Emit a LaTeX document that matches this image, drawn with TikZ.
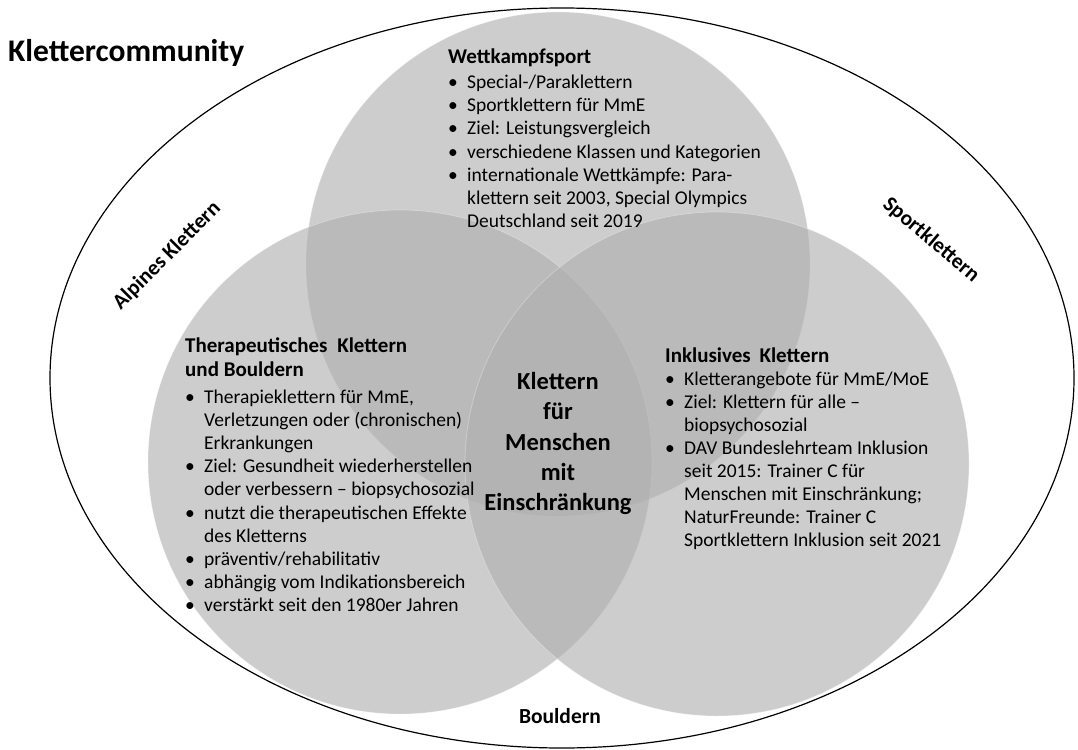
\documentclass[tikz,border=0pt]{standalone}
\usepackage{fontspec}
\setmainfont{Carlito}
\usetikzlibrary{positioning}

\definecolor{kreisgrau}{gray}{0.686}
\newcommand{\pkt}{\makebox[19pt][l]{\textbullet}}
\newcommand{\weiter}{\hspace*{19pt}}

\begin{document}
\begin{tikzpicture}[%
x=1pt, y=-1pt,
kreis/.style={circle, minimum size=504pt, inner sep=0pt, fill=kreisgrau,
  fill opacity=0.625, draw=white, draw opacity=0.3, line width=0.8pt},
kopf/.style={font=\bfseries\fontsize{21}{24}\selectfont, align=left, inner sep=0pt},
liste/.style={font=\fontsize{19.5}{23.1}\selectfont, align=left, inner sep=0pt},
bereich/.style={font=\bfseries\fontsize{21.5}{24}\selectfont, inner sep=0pt}
]

\fill[white] (0,0) rectangle (1078,749);
\useasboundingbox (0,0) rectangle (1078,749);

\draw[line width=1.2pt] (562,378) ellipse [x radius=512pt, y radius=370pt];

\node[kreis] (wett)  at (558,264) {};
\node[kreis] (thera) at (400,462) {};
\node[kreis] (inkl)  at (717,464) {};

\node[kopf, anchor=base west, font=\bfseries\fontsize{31.5}{36}\selectfont] (titel) at (8,62) {Klettercommunity};

\node[kopf, anchor=base west] (wettkopf) at (448,64) {Wettkampfsport};
\node[liste, below=7.5pt of wettkopf.south west, anchor=north west] (wettliste) {%
\pkt Special-/Paraklettern\\
\pkt Sportklettern für MmE\\
\pkt Ziel: Leistungsvergleich\\
\pkt verschiedene Klassen und Kategorien\\
\pkt internationale Wettkämpfe: Para-\\
\weiter klettern seit 2003, Special Olympics\\
\weiter Deutschland seit 2019};

\node[kopf, anchor=north west] (therakopf) at (185,338) {Therapeutisches\hspace{5pt} Klettern\\und Bouldern};
\node[liste, below=12.5pt of therakopf.south west, anchor=north west] (theraliste) {%
\pkt Therapieklettern für MmE,\\
\weiter Verletzungen oder (chronischen)\\
\weiter Erkrankungen\\
\pkt Ziel: Gesundheit wiederherstellen\\
\weiter oder verbessern – biopsychosozial\\
\pkt nutzt die therapeutischen Effekte\\
\weiter des Kletterns\\
\pkt präventiv/rehabilitativ\\
\pkt abhängig vom Indikationsbereich\\
\pkt verstärkt seit den 1980er Jahren};

\node[kopf, anchor=base west] (inklkopf) at (665,362) {Inklusives\hspace{4pt} Klettern};
\node[liste, below=9pt of inklkopf.south west, anchor=north west] (inklliste) {%
\pkt Kletterangebote für MmE/MoE\\
\pkt Ziel: Klettern für alle –\\
\weiter biopsychosozial\\
\pkt DAV Bundeslehrteam Inklusion\\
\weiter seit 2015: Trainer C für\\
\weiter Menschen mit Einschränkung;\\
\weiter NaturFreunde: Trainer C\\
\weiter Sportklettern Inklusion seit 2021};

\node[kopf, align=center, anchor=north, font=\bfseries\fontsize{24.5}{30.4}\selectfont] (mitte) at (558,372)
  {Klettern\\für\\Menschen\\mit\\Einschränkung};

\node[bereich, rotate=45] (alpin) at (167,256) {Alpines Klettern};
\node[bereich, rotate=-40] (sport) at (931,240) {Sportklettern};
\node[bereich, anchor=base] (boulder) at (560,723) {Bouldern};

\end{tikzpicture}
\end{document}
